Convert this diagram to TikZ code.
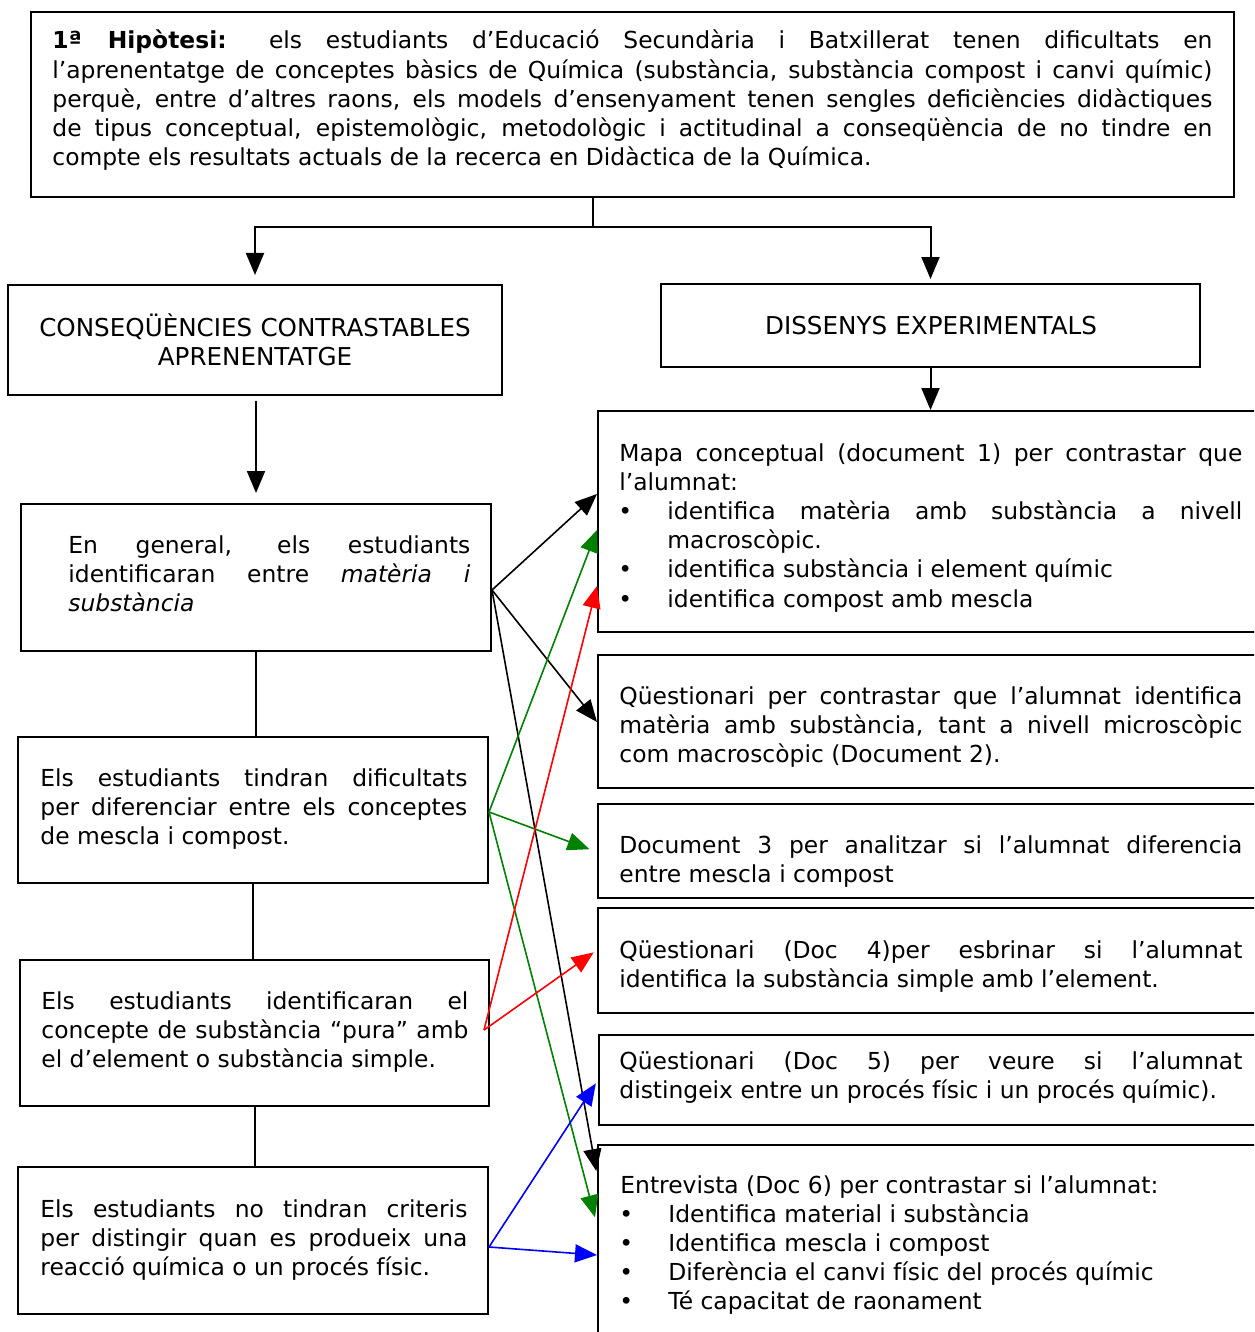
\documentclass[tikz,border=0pt]{standalone}
\usepackage{fontspec}
\setmainfont{DejaVu Sans}
\usetikzlibrary{arrows.meta,fit}
\newcommand\txtsize{\fontsize{11.7}{14.6}\selectfont}
\newcommand\headsize{\fontsize{12.3}{14.6}\selectfont}
% bullet item with hanging indent
\newcommand\bul{\par\noindent\hangindent=24pt\hangafter=1\makebox[24pt][l]{\hspace{-0.5pt}•}}
\begin{document}
\begin{tikzpicture}[x=0.5pt,y=-0.5pt,
  box/.style={draw, line width=1pt, inner sep=0pt},
  txt/.style={anchor=base west, inner sep=0pt, align=justify, font=\txtsize},
  ctxt/.style={anchor=base, inner sep=0pt, align=center, font=\headsize, text width=300pt},
  tip/.style={-{Triangle[length=11pt,width=9pt]}},
  link/.style={line width=0.8pt, tip},
  stem/.style={line width=1pt},
]
\useasboundingbox (0,0) rectangle (1254,1332);
\clip (0,0) rectangle (1254,1332);

% ---- boxes ----
\node[box, fit={(31,12)(1234,197)}] (hyp) {};
\node[box, fit={(8,285)(502,395)}] (cons) {};
\node[box, fit={(661,284)(1200,367)}] (dis) {};
\node[box, fit={(21,504)(491,651)}] (gen) {};
\node[box, fit={(18,737)(488,883)}] (tind) {};
\node[box, fit={(20,960)(489,1106)}] (ident) {};
\node[box, fit={(18,1167)(488,1314)}] (crit) {};
\node[box, fit={(598,411)(1270,632)}] (m1) {};
\node[box, fit={(598,655)(1270,788)}] (m2) {};
\node[box, fit={(598,804)(1270,898)}] (m3) {};
\node[box, fit={(598,908)(1270,1013)}] (m4) {};
\node[box, fit={(599,1035)(1270,1125)}] (m5) {};
\node[box, fit={(598,1145)(1270,1360)}] (m6) {};

% ---- texts ----
\node[txt, text width=580pt] (hypt) at (52,49) {\textbf{1ª Hipòtesi:} els estudiants d’Educació Secundària i Batxillerat tenen dificultats en\linebreak
l’aprenentatge de conceptes bàsics de Química (substància, substància compost i canvi químic)\linebreak
perquè, entre d’altres raons, els models d’ensenyament tenen sengles deficiències didàctiques\linebreak
de tipus conceptual, epistemològic, metodològic i actitudinal a conseqüència de no tindre en\linebreak
compte els resultats actuals de la recerca en Didàctica de la Química.};

\node[ctxt] (const) at (255,336) {CONSEQÜÈNCIES CONTRASTABLES\\APRENENTATGE};
\node[ctxt] (dist) at (931,334) {DISSENYS EXPERIMENTALS};

\node[txt, text width=201pt] (gent) at (68,553) {En general, els estudiants\linebreak identificaran entre \textit{matèria i}\linebreak \textit{substància}};
\node[txt, text width=213.5pt] (tindt) at (40,786) {Els estudiants tindran dificultats\linebreak per diferenciar entre els conceptes\linebreak de mescla i compost.};
\node[txt, text width=213.5pt] (identt) at (41,1009) {Els estudiants identificaran el\linebreak concepte de substància “pura” amb\linebreak el d’element o substància simple.};
\node[txt, text width=213.5pt] (critt) at (40,1217) {Els estudiants no tindran criteris\linebreak per distingir quan es produeix una\linebreak reacció química o un procés físic.};

\node[txt, text width=311.5pt] (m1t) at (619,461) {Mapa conceptual (document 1) per contrastar que\linebreak l’alumnat:
\bul identifica matèria amb substància a nivell\linebreak macroscòpic.
\bul identifica substància i element químic
\bul identifica compost amb mescla};
\node[txt, text width=311.5pt] (m2t) at (619,704) {Qüestionari per contrastar que l’alumnat identifica\linebreak matèria amb substància, tant a nivell microscòpic\linebreak com macroscòpic (Document 2).};
\node[txt, text width=311.5pt] (m3t) at (619,853) {Document 3 per analitzar si l’alumnat diferencia\linebreak entre mescla i compost};
\node[txt, text width=311.5pt] (m4t) at (619,958) {Qüestionari (Doc 4)per esbrinar si l’alumnat\linebreak identifica la substància simple amb l’element.};
\node[txt, text width=311.5pt] (m5t) at (619,1069) {Qüestionari (Doc 5) per veure si l’alumnat\linebreak distingeix entre un procés físic i un procés químic).};
\node[txt, text width=311.5pt] (m6t) at (620,1193) {Entrevista (Doc 6) per contrastar si l’alumnat:
\bul Identifica material i substància
\bul Identifica mescla i compost
\bul Diferència el canvi físic del procés químic
\bul Té capacitat de raonament};

% ---- tree structure ----
\coordinate (split) at (593,227);
\draw[stem] (hyp.south -| split) -- (split);
\draw[stem, tip, shorten >=4.5pt] (split) -| (cons.north);
\draw[stem, tip, shorten >=2pt] (split) -| (dis.north);
\draw[stem, tip] (dis.south) -- (dis.south |- m1.north);
\draw[stem, tip, shorten <=2.5pt, shorten >=5pt] (cons.south -| gen.north) -- (gen.north);
\draw[stem] (gen.south) -- (gen.south |- tind.north);
\draw[stem] (tind.south) -- (tind.south |- ident.north);
\draw[stem] (ident.south) -- (ident.south |- crit.north);

% ---- links between hypotheses and instruments ----
\draw[link] (gen.east |- 0,590) -- (m1.west |- 0,494);
\draw[link] (gen.east |- 0,590) -- (m2.west |- 0,722);
\draw[link, shorten >=2pt] (gen.east |- 0,590) -- (m6.west |- 0,1175);

\draw[link, green!50!black] (tind.east |- 0,812) -- (m1.west |- 0,530);
\draw[link, green!50!black, shorten >=4pt] (tind.east |- 0,812) -- (m3.west |- 0,852);
\draw[link, green!50!black, shorten >=4pt] (tind.east |- 0,812) -- (m6.west |- 0,1225);

\draw[link, red] ([xshift=-3pt]ident.east |- 0,1030) -- (m1.west |- 0,586);
\draw[link, red, shorten >=2pt] ([xshift=-3pt]ident.east |- 0,1030) -- (m4.west |- 0,950);

\draw[link, blue, shorten >=2pt] (crit.east |- 0,1247) -- (m5.west |- 0,1080);
\draw[link, blue] (crit.east |- 0,1247) -- (m6.west |- 0,1255);
\end{tikzpicture}
\end{document}
